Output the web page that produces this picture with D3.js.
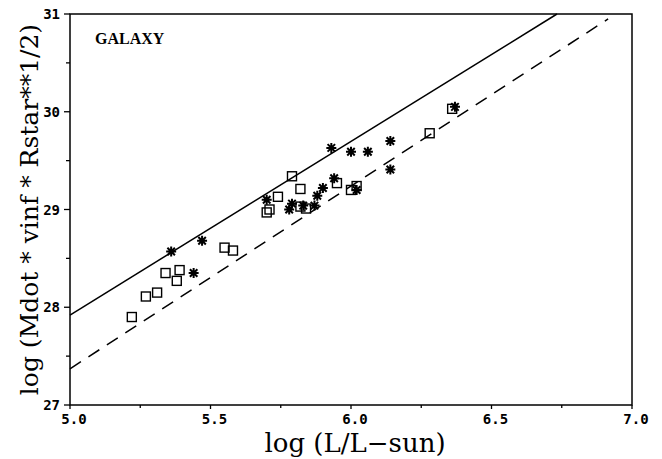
<!DOCTYPE html>
<html>
<head>
<meta charset="utf-8">
<script src="https://cdn.jsdelivr.net/npm/d3@7"></script>
<style>
  body { margin: 0; background: #fff; }
  svg { display: block; }
</style>
</head>
<body>
<div id="chart"></div>
<script>
// log L, log(Mdot*vinf*sqrt(R))
const squarePts = [
  [5.22, 27.90], [5.27, 28.11], [5.31, 28.15], [5.34, 28.35], [5.38, 28.27],
  [5.39, 28.38], [5.55, 28.61], [5.58, 28.58], [5.70, 28.97], [5.71, 29.00],
  [5.74, 29.13], [5.79, 29.34], [5.82, 29.21], [5.82, 29.03], [5.84, 29.01],
  [5.95, 29.27], [6.00, 29.20], [6.02, 29.24], [6.28, 29.78], [6.36, 30.03]
];
const starPts = [
  [5.36, 28.57], [5.47, 28.68], [5.44, 28.35], [5.70, 29.10], [5.78, 29.00],
  [5.79, 29.06], [5.83, 29.04], [5.87, 29.04], [5.88, 29.14], [5.90, 29.22],
  [5.94, 29.32], [5.93, 29.63], [6.00, 29.59], [6.06, 29.59], [6.14, 29.70],
  [6.14, 29.41], [6.02, 29.20], [6.37, 30.05]
];
const solidLine = [[5.0, 27.92], [6.733, 31.0]];
const dashedLine = [[5.0, 27.37], [6.915, 30.95]];

const xMajor = [5.0, 5.5, 6.0, 6.5, 7.0];
const xMinor = [5.25, 5.75, 6.25, 6.75];
const yMajor = [27, 28, 29, 30, 31];
const yMinor = [27.5, 28.5, 29.5, 30.5];

const width = 662, height = 459;
const margin = { top: 14, right: 30, bottom: 54, left: 70 };

const svg = d3.select('#chart').append('svg')
  .attr('width', width)
  .attr('height', height);

const x = d3.scaleLinear().domain([5, 7]).range([margin.left, width - margin.right]);
const y = d3.scaleLinear().domain([27, 31]).range([height - margin.bottom, margin.top]);

// frame
svg.append('rect')
  .attr('x', x(5)).attr('y', y(31))
  .attr('width', x(7) - x(5)).attr('height', y(27) - y(31))
  .attr('fill', 'none').attr('stroke', '#000').attr('stroke-width', 1.5);

// ticks (outward, left + bottom only)
const tickG = svg.append('g').attr('stroke', '#000').attr('stroke-width', 1.3);
tickG.selectAll('.xt').data(xMajor.concat(xMinor)).enter().append('line')
  .attr('x1', d => x(d)).attr('x2', d => x(d))
  .attr('y1', y(27)).attr('y2', (d, i) => y(27) + (i < xMajor.length ? 4 : 3));
tickG.selectAll('.yt').data(yMajor.concat(yMinor)).enter().append('line')
  .attr('y1', d => y(d)).attr('y2', d => y(d))
  .attr('x1', x(5)).attr('x2', (d, i) => x(5) - (i < yMajor.length ? 6 : 4));

const labelFont = '"DejaVu Sans Mono", monospace';
svg.selectAll('.xl').data(xMajor).enter().append('text')
  .attr('x', d => x(d) + 4)
  .attr('y', y(27) + 19)
  .attr('text-anchor', 'middle')
  .style('font-family', labelFont).style('font-weight', 'bold').style('font-size', '14px')
  .text(d => d.toFixed(1));

svg.selectAll('.yl').data(yMajor).enter().append('text')
  .attr('x', x(5) - 10)
  .attr('y', d => y(d) + 5)
  .attr('text-anchor', 'end')
  .style('font-family', labelFont).style('font-weight', 'bold').style('font-size', '14px')
  .text(d => d);

// axis titles
const titleFont = '"DejaVu Serif", serif';
svg.append('text')
  .attr('x', (x(5) + x(7)) / 2 + 4)
  .attr('y', 452)
  .attr('text-anchor', 'middle')
  .style('font-family', titleFont).style('font-size', '26px')
  .text('log (L/L\u2212sun)');

svg.append('text')
  .attr('transform', `translate(38, ${(y(27) + y(31)) / 2}) rotate(-90)`)
  .attr('text-anchor', 'middle')
  .style('font-family', titleFont).style('font-size', '25px')
  .text('log (Mdot * vinf * Rstar**1/2)');

svg.append('text')
  .attr('x', 95).attr('y', 44)
  .style('font-family', '"Liberation Serif", serif').style('font-size', '16px')
  .style('font-weight', 'bold')
  .text('GALAXY');

// fit lines
const line = d3.line().x(d => x(d[0])).y(d => y(d[1]));
svg.append('path').datum(solidLine)
  .attr('d', line).attr('fill', 'none').attr('stroke', '#000').attr('stroke-width', 1.5);
svg.append('path').datum(dashedLine)
  .attr('d', line).attr('fill', 'none').attr('stroke', '#000').attr('stroke-width', 1.5)
  .attr('stroke-dasharray', '13,9');

// squares
const s = 9;
svg.append('g').selectAll('rect').data(squarePts).enter().append('rect')
  .attr('x', d => x(d[0]) - s / 2).attr('y', d => y(d[1]) - s / 2)
  .attr('width', s).attr('height', s)
  .attr('fill', 'none').attr('stroke', '#000').attr('stroke-width', 1.4);

// asterisks
const r = 5, rd = r * 0.75;
const star = `M0,${-r}V${r}M${-r},0H${r}M${-rd},${-rd}L${rd},${rd}M${-rd},${rd}L${rd},${-rd}`;
svg.append('g').selectAll('path').data(starPts).enter().append('path')
  .attr('transform', d => `translate(${x(d[0])},${y(d[1])})`)
  .attr('d', star)
  .attr('fill', 'none').attr('stroke', '#000').attr('stroke-width', 2);
</script>
</body>
</html>
